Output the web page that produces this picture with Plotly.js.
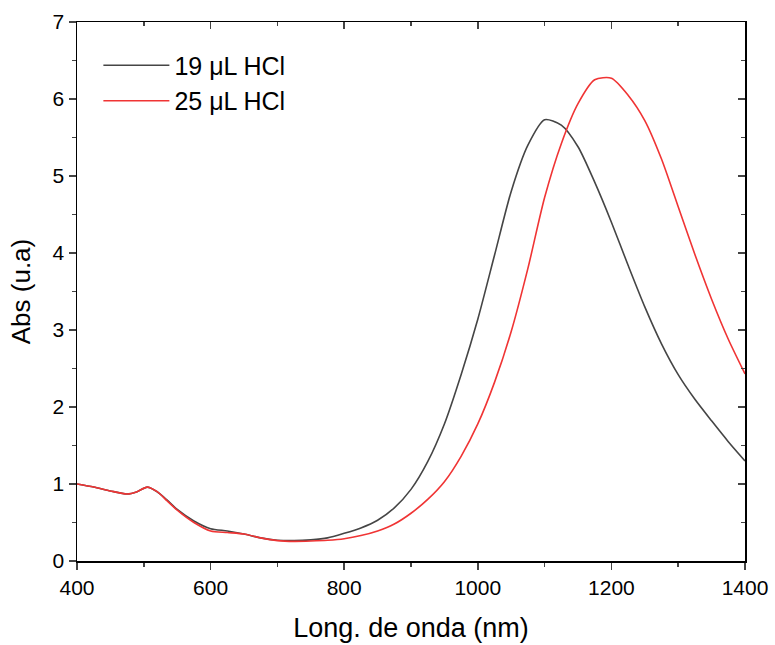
<!DOCTYPE html>
<html><head><meta charset="utf-8">
<script src="https://cdn.plot.ly/plotly-3.0.1.min.js"></script>
<style>html,body{margin:0;padding:0;background:#fff;}</style>
</head><body>
<div id="chart" style="width:775px;height:645px;"></div>
<script>
const wavelength = [400,425,450,475,490,505,520,535,550,575,600,625,650,675,700,725,750,775,800,825,850,875,900,925,950,975,1000,1025,1050,1075,1100,1125,1150,1175,1200,1225,1250,1275,1300,1325,1350,1375,1400];
const abs19 = [1.00,0.96,0.91,0.87,0.90,0.96,0.90,0.79,0.67,0.52,0.42,0.39,0.35,0.30,0.27,0.265,0.275,0.30,0.36,0.43,0.53,0.69,0.93,1.29,1.78,2.42,3.14,3.97,4.80,5.40,5.73,5.66,5.38,4.92,4.40,3.84,3.30,2.82,2.42,2.10,1.82,1.55,1.30];
const abs25 = [1.00,0.96,0.91,0.87,0.90,0.96,0.90,0.78,0.66,0.50,0.39,0.37,0.35,0.30,0.265,0.255,0.26,0.27,0.29,0.33,0.39,0.48,0.62,0.80,1.03,1.36,1.78,2.32,2.98,3.80,4.72,5.42,5.94,6.25,6.27,6.05,5.72,5.22,4.60,3.98,3.40,2.88,2.43];
const seriesNames = ['19 μL HCl','25 μL HCl'];

const font = 'Liberation Sans, Arial, sans-serif';
const traces = [
  {x: wavelength, y: abs19, name: seriesNames[0], type:'scatter', mode:'lines', line:{color:'#454545', width:1.6, shape:'spline', smoothing:0.7}},
  {x: wavelength, y: abs25, name: seriesNames[1], type:'scatter', mode:'lines', line:{color:'#f03434', width:1.6, shape:'spline', smoothing:0.7}},
  {x:[400], y:[0], xaxis:'x2', yaxis:'y2', mode:'markers', marker:{opacity:0}, showlegend:false, hoverinfo:'skip'}
];
const layout = {
  width:775, height:645,
  margin:{l:77, r:30, t:22, b:84},
  paper_bgcolor:'#fff', plot_bgcolor:'#fff',
  font:{family:font, color:'#000'},
  showlegend:true,
  legend:{x:0.032, y:0.962, xanchor:'left', yanchor:'top', bgcolor:'rgba(0,0,0,0)', font:{size:25, family:font}, tracegroupgap:0, itemwidth:66},
  xaxis:{range:[400,1400], dtick:200, tick0:400, ticks:'outside', ticklen:7, tickwidth:1.5, showline:true, linewidth:1.5, linecolor:'#000', showgrid:false, zeroline:false,
    tickfont:{size:21, family:font}, minor:{dtick:100, ticks:'outside', ticklen:4, tickwidth:1.5, showgrid:false},
    title:{text:'Long. de onda (nm)', font:{size:27, family:font}, standoff:20}},
  yaxis:{range:[0,7], dtick:1, ticks:'outside', ticklen:7, tickwidth:1.5, showline:true, linewidth:1.5, linecolor:'#000', showgrid:false, zeroline:false,
    tickfont:{size:21, family:font}, minor:{dtick:0.5, ticks:'outside', ticklen:4, tickwidth:1.5, showgrid:false},
    title:{text:'Abs (u.a)', font:{size:26, family:font}, standoff:14}},
  xaxis2:{overlaying:'x', side:'top', range:[400,1400], dtick:200, tick0:400, ticks:'inside', ticklen:7, tickwidth:1.5, showline:true, linewidth:1.5, linecolor:'#000', showticklabels:false, showgrid:false, zeroline:false,
    minor:{dtick:100, ticks:'inside', ticklen:4, tickwidth:1.5, showgrid:false}},
  yaxis2:{overlaying:'y', side:'right', range:[0,7], dtick:1, ticks:'inside', ticklen:7, tickwidth:1.5, showline:true, linewidth:1.5, linecolor:'#000', showticklabels:false, showgrid:false, zeroline:false,
    minor:{dtick:0.5, ticks:'inside', ticklen:4, tickwidth:1.5, showgrid:false}}
};
Plotly.newPlot('chart', traces, layout, {displayModeBar:false, staticPlot:true});
</script>
</body></html>
